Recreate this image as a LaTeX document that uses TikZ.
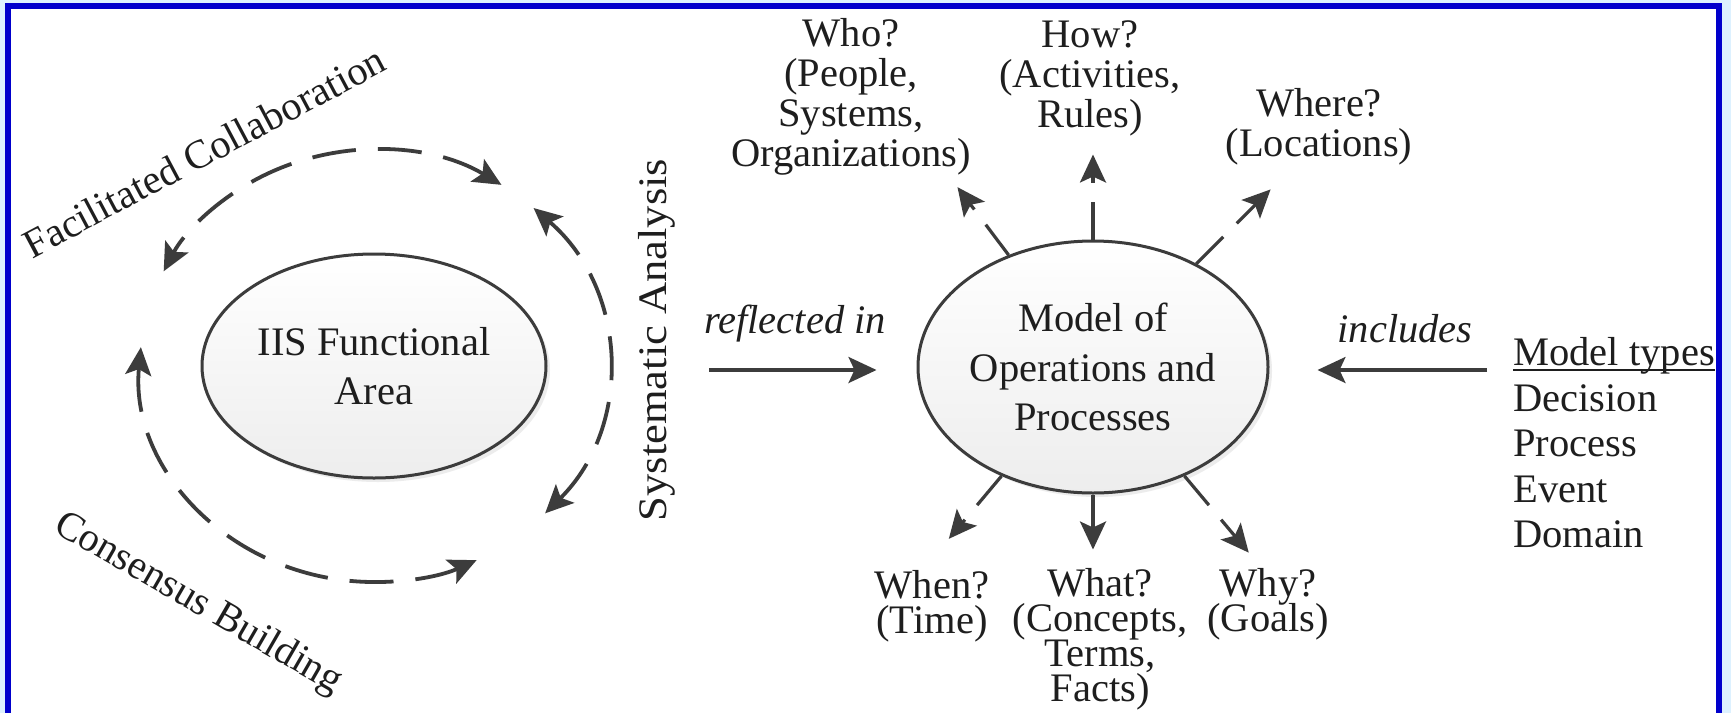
\documentclass[tikz,border=0pt]{standalone}
\usepackage{fontspec}
\setmainfont{Liberation Serif}
\usepackage{xcolor}
\usepackage{tikz}
\usetikzlibrary{shapes.geometric, arrows.meta, positioning, shadows}
\definecolor{FrameBlue}{HTML}{0000CC}
\definecolor{FrameLight}{HTML}{DDF1FF}
\definecolor{LineGrey}{HTML}{3C3C3C}
\definecolor{TextGrey}{HTML}{1E1E1E}
\newcommand{\ulin}[1]{\setbox0\hbox{#1}\rlap{\rule[-2.5pt]{\wd0}{0.8pt}}\box0}
\newcommand{\qfont}[1]{\fontsize{20.25}{#1}\selectfont\lineskiplimit=-100pt}

\begin{document}
\begin{tikzpicture}[x=0.5pt, y=-0.5pt, every node/.style={text=TextGrey},
    oval/.style={draw=LineGrey, line width=1.5pt, ellipse, top color=white, bottom color=gray!14,
      drop shadow={opacity=0.15, shadow xshift=2pt, shadow yshift=-2pt},
      minimum width=175pt, minimum height=126pt, inner sep=0pt, align=center, font=\qfont{24.75}},
    tip/.style={-{Stealth[length=14pt, width=13pt, inset=3pt]}},
    arr/.style={tip, draw=LineGrey, line width=1.6pt},
    ring/.style={{Stealth[length=14pt, width=13pt, inset=3pt]}-{Stealth[length=14pt, width=13pt, inset=3pt]},
      draw=LineGrey, line width=1.9pt, dash pattern=on 22pt off 11pt},
    spoke/.style={arr, dash pattern=on 19pt off 9.5pt on 200pt},
    txt/.style={inner sep=0pt, font=\qfont{24}},
    qtop/.style={inner sep=0pt, align=center, anchor=south, font=\qfont{20}},
    qbot/.style={inner sep=0pt, align=center, anchor=north, font=\qfont{17.5}}]

  % frame
  \fill[FrameLight] (0,0) rectangle (1731,713);
  \fill[FrameBlue] (5,3) rectangle (1722,713);
  \fill[white] (11,9) rectangle (1716,713);
  \useasboundingbox (0,0) rectangle (1731,713);

  \node[oval, minimum width=172pt, minimum height=112pt] (iis) at (374,366) {IIS Functional\\Area};
  \node[oval] (model) at (1093,367) {Model of\\Operations and\\Processes};

  % cycle round the functional area
  \foreach \s/\e in {57/154, -43/47, 175/296}
    \draw[ring] ([shift={(\s:117pt and 108pt)}]iis.center)
      arc[start angle=\s, end angle=\e, x radius=117pt, y radius=108pt];

  \node[txt, rotate=28] (facil) at (204,152) {Facilitated Collaboration};
  \node[txt, rotate=-30] (consens) at (198,604) {Consensus Building};
  \node[txt, rotate=90] (sysan) at (657,340) {\scalebox{1.1}[1]{Systematic Analysis}};

  \coordinate (reflfrom) at (709,370);
  \draw[arr, shorten >=20pt] (reflfrom) -- (reflfrom -| model.west);
  \node[txt, anchor=base, font=\qfont{24}\itshape] (refl) at (795,333) {reflected in};

  \node[txt, anchor=north west, align=left, font=\qfont{22.75}] (types) at (1513,337)
    {\ulin{Model types}\\Decision\\Process\\Event\\Domain};
  \coordinate (inclfrom) at (1487,370);
  \draw[arr, shorten >=24pt] (inclfrom) -- (inclfrom -| model.east);
  \node[txt, anchor=base, font=\qfont{24}\itshape] (incl) at (1405,342) {includes};

  % spokes
  \foreach \a/\l/\n in {127/42.5pt/who, 90/42.5pt/how, 45/52.5pt/where, 230/41pt/when, 270/27.5pt/what, 310/50pt/why}{
    \path (model.\a) ++(\a:\l) coordinate (\n tip);
    \draw[spoke] (model.\a) -- (\n tip);
  }

  \node[qtop] (who) at (851,176) {Who?\\(People,\\Systems,\\Organizations)};
  \node[qtop] (how) at (1090,137) {How?\\(Activities,\\Rules)};
  \node[qtop] (where) at (1319,166) {Where?\\(Locations)};
  \node[qbot] (when) at (932,570) {When?\\(Time)};
  \node[qbot] (what) at (1100,568) {What?\\(Concepts,\\Terms,\\Facts)};
  \node[qbot] (why) at (1268,568) {Why?\\(Goals)};
\end{tikzpicture}
\end{document}
